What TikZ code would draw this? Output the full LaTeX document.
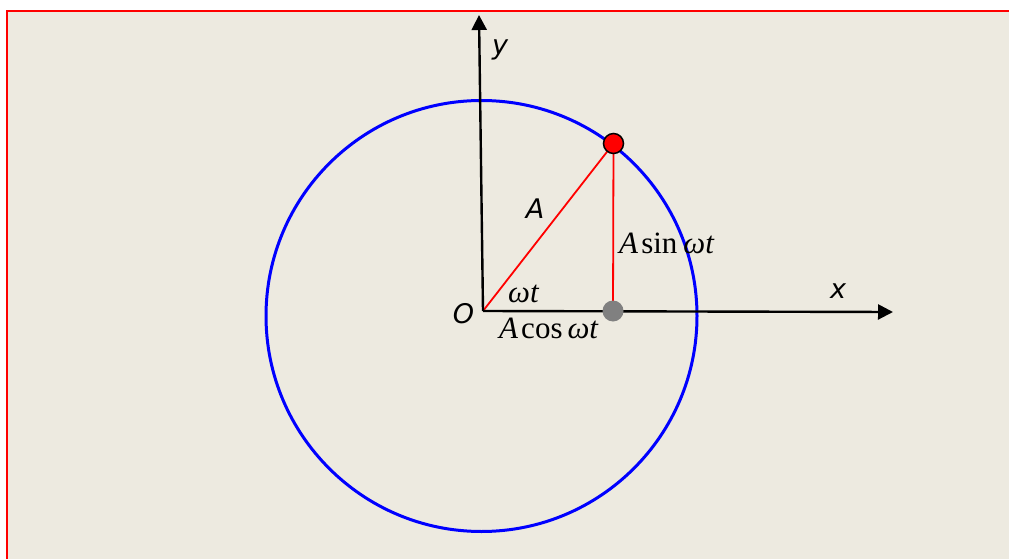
\documentclass[tikz,border=0pt]{standalone}
\usepackage{fontspec}
\setmainfont{Liberation Serif}
\newfontfamily\labfont{DejaVu Sans}
\usetikzlibrary{arrows.meta}
\definecolor{bgbeige}{RGB}{237,234,224}
\definecolor{circblue}{RGB}{0,0,255}
\definecolor{ptgray}{RGB}{128,128,128}
\tikzset{
  axisline/.style={line width=2.4pt, -{Triangle[length=15pt,width=15pt]}},
  redline/.style={red, line width=1.8pt},
  sanslab/.style={inner sep=0pt, font=\labfont\itshape\fontsize{27}{27}\selectfont},
  serlab/.style={inner sep=0pt, anchor=base west, font=\fontsize{31}{31}\selectfont},
  dot/.style={circle, inner sep=0pt, minimum size=20pt}
}
\begin{document}
\begin{tikzpicture}[x=1pt,y=-1pt]
\useasboundingbox (0,0) rectangle (1009,559);
\clip (0,0) rectangle (1009,559);
\fill[white] (0,0) rectangle (1009,559);
\draw[red, line width=2pt, fill=bgbeige] (7,11) rectangle (1020,570);
% circle
\draw[circblue, line width=3pt] (481.5,316) circle (215.5);
% key points
\coordinate (O) at (483,311);
\coordinate (ytip) at (479,15);
\coordinate (xtip) at (893,312);
% red triangle
\node[dot] (P) at (613.5,143.5) {};
\node[dot] (Q) at (613,311) {};
\draw[redline] (O) -- (P.center);
\draw[redline] (P.center) -- (Q.center);
\draw[redline] (O) -- (Q.center);
% axes
\draw[axisline] (O) -- (ytip);
\draw[axisline] (O) -- (xtip);
% dots on top
\node[dot, draw=black, line width=1.5pt, fill=red] (Pd) at (P) {};
\node[dot, fill=ptgray, minimum size=21pt] (Qd) at (Q) {};
% labels
\node[sanslab] (ylab) at (500,50) {y};
\node[sanslab] (xlab) at (838,291) {x};
\node[sanslab] (Olab) at (463.5,313.5) {O};
\node[sanslab] (Alab) at (535,208.5) {A};
\node[serlab] (wtlab) at (508,302) {\textit{ω}\textit{t}};
\node[serlab] (sinlab) at (619,253) {\textit{A}\hspace{3pt}sin\hspace{6pt}\textit{ω}\textit{t}};
\node[serlab] (coslab) at (499,338) {\textit{A}\hspace{3pt}cos\hspace{5pt}\textit{ω}\textit{t}};
\end{tikzpicture}
\end{document}
